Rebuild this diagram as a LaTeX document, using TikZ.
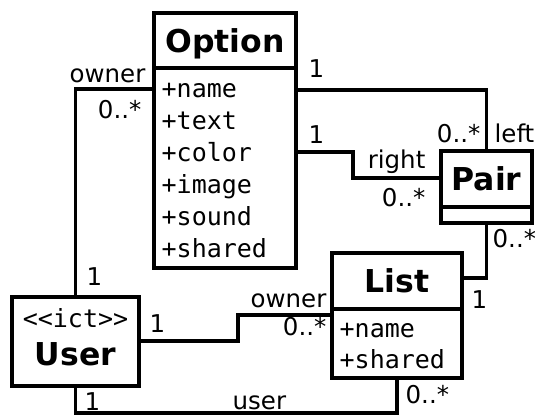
\documentclass[tikz,border=0pt]{standalone}
\usepackage{fontspec}
\setmainfont{DejaVu Sans}
\newfontfamily\monof{DejaVu Sans Mono}
\begin{document}
\begin{tikzpicture}[x=1pt,y=-1pt,line width=3.3pt,
  box/.style={draw,line width=3.3pt,inner sep=0pt,outer sep=0pt,anchor=north west},
  ttl/.style={font=\fontsize{31.5}{36}\selectfont\bfseries,text height=23pt,text depth=0pt},
  lab/.style={font=\fontsize{24.5}{28}\selectfont,inner sep=0pt},
  attr/.style={font=\monof\fontsize{25}{32}\selectfont,inner sep=0pt,anchor=base west},
  conn/.style={draw,line width=3.3pt}]
\useasboundingbox (0,0) rectangle (535,415);
% classes
\node[box,ttl,minimum width=142pt,minimum height=55pt] (optT) at (154,13) {Option};
\node[box,minimum width=142pt,minimum height=200pt] (optA) at (154,68) {};
\node[attr] (optTx) at (160,97.5) {\parbox[t]{130pt}{\raggedright +name\\+text\\+color\\+image\\+sound\\+shared}};
\node[box,ttl,minimum width=91pt,minimum height=56pt] (pairT) at (441,151) {Pair};
\node[box,minimum width=91pt,minimum height=16pt] (pairA) at (441,207) {};
\node[box,ttl,minimum width=130pt,minimum height=56pt] (listT) at (332,253) {List};
\node[box,minimum width=130pt,minimum height=69pt] (listA) at (332,309) {};
\node[attr,font=\monof\fontsize{25}{31}\selectfont] (listTx) at (338,337) {\parbox[t]{120pt}{\raggedright +name\\+shared}};
\node[box,minimum width=127pt,minimum height=89pt] (user) at (12,297) {};
\node[inner sep=0pt,anchor=base,font=\monof\fontsize{25}{30}\selectfont] (userSt) at (75.5,327) {<{}<ict>{}>};
\node[inner sep=0pt,anchor=base,font=\fontsize{31.5}{36}\selectfont\bfseries] (userN) at (75.5,365) {User};
% bend points
\coordinate (c1) at (75.5,89);
\coordinate (c2) at (486.5,90);
\coordinate (c3) at (353,152);
\coordinate (c4) at (353,178);
\coordinate (c5) at (486.5,278);
\coordinate (c6) at (238,341);
\coordinate (c7) at (238,315);
\coordinate (c8) at (75.5,413);
\coordinate (c9) at (397,413);
% connectors
\draw[conn] (c1 -| optA.west) -- (c1) -- (user.north);
\draw[conn] (c2 -| optA.east) -- (c2) -- (c2 |- pairT.north);
\draw[conn] (c3 -| optA.east) -- (c3) -- (c4) -- (c4 -| pairT.west);
\draw[conn] (c5 |- pairA.south) -- (c5) -- (c5 -| listT.east);
\draw[conn] (c6 -| user.east) -- (c6) -- (c7) -- (c7 -| listA.west);
\draw[conn] (user.south) -- (c8) -- (c9) -- (c9 |- listA.south);
% labels
\node[lab,anchor=base east] (l1) at (147,82) {owner};
\node[lab,anchor=base east] (l2) at (143,118) {0..*};
\node[lab,anchor=base west] (l3) at (85,285) {1};
\node[lab,anchor=base west] (l4) at (307,77) {1};
\node[lab,anchor=base west] (l5) at (307,143) {1};
\node[lab,anchor=base east] (l6) at (482,142) {0..*};
\node[lab,anchor=base west] (l7) at (493,142) {left};
\node[lab,anchor=base east] (l8) at (427,168) {right};
\node[lab,anchor=base east] (l9) at (427,206) {0..*};
\node[lab,anchor=base west] (l10) at (491,247) {0..*};
\node[lab,anchor=base west] (l11) at (470,308) {1};
\node[lab,anchor=base east] (l12) at (328,307) {owner};
\node[lab,anchor=base east] (l13) at (328,335) {0..*};
\node[lab,anchor=base west] (l14) at (404,403) {0..*};
\node[lab,anchor=base west] (l15) at (148,332) {1};
\node[lab,anchor=base west] (l16) at (83,410) {1};
\node[lab,anchor=base west] (l17) at (231,409) {user};
\end{tikzpicture}
\end{document}
